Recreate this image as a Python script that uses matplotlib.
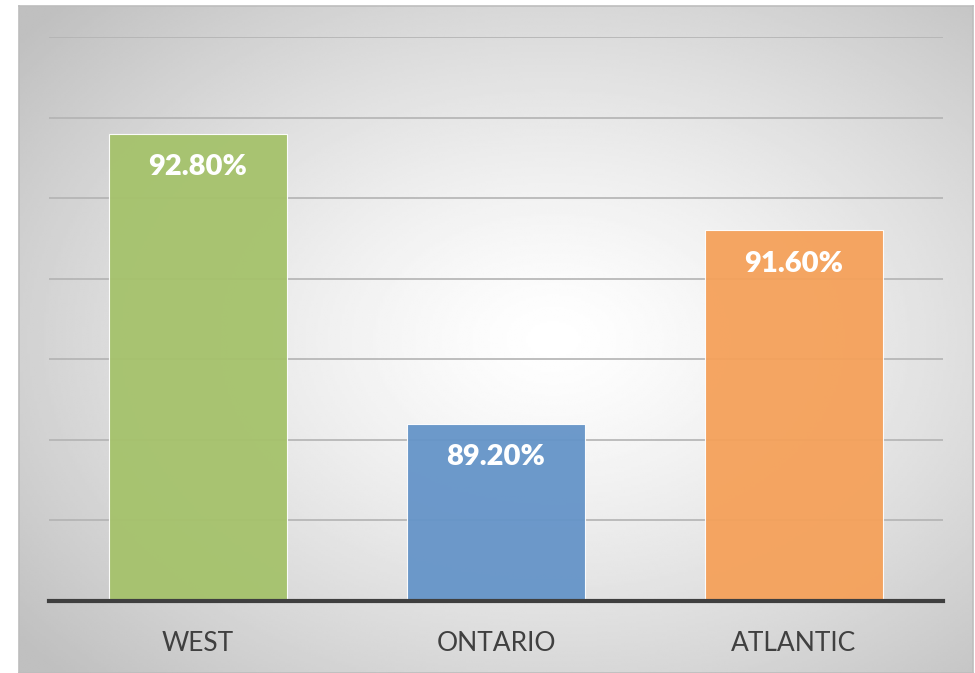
import numpy as np
import matplotlib.pyplot as plt

# ─── Datos ────────────────────────────────────────────────────────────────────
regions = ['WEST', 'ONTARIO', 'ATLANTIC']
values = [92.8, 89.2, 91.6]
colors = ['#A5C26B', '#6594C8', '#F5A15A']
ymin, ymax = 87, 94

W, H = 975, 673
fig = plt.figure(figsize=(W / 100, H / 100), dpi=100)

# ─── Fondo con degradado radial ──────────────────────────────────────────────
bg = fig.add_axes([19 / W, 0, (973 - 19) / W, (673 - 6) / H])
xx, yy = np.meshgrid(np.linspace(-1, 1, 400), np.linspace(-1, 1, 300))
cx, cy = 0.12, 0.0
r = np.sqrt((xx - cx) ** 2 + (yy - cy) ** 2)
r = np.clip(r / 1.45, 0, 1)
shade = 1.0 - 0.25 * r ** 1.3
bg.imshow(shade, cmap='gray', vmin=0, vmax=1, aspect='auto',
          extent=[0, 1, 0, 1], interpolation='bilinear')
bg.set_xticks([])
bg.set_yticks([])
for s in bg.spines.values():
    s.set_color('#BDBDBD')
    s.set_linewidth(1.2)

# ─── Gráfico de barras ───────────────────────────────────────────────────────
ax = fig.add_axes([49 / W, (673 - 601) / H, (943 - 49) / W, (601 - 37) / H])
ax.patch.set_alpha(0)
x = np.arange(len(regions))
bars = ax.bar(x, values, width=0.6, bottom=0, color=colors, alpha=0.95,
              edgecolor='white', linewidth=0.8, zorder=3)
ax.set_ylim(ymin, ymax)
ax.set_xlim(-0.5, len(regions) - 0.5)
ax.set_yticks(np.arange(ymin, ymax + 1, 1))
ax.yaxis.grid(True, color='#B3B3B3', lw=1.2, zorder=0)
ax.set_axisbelow(True)
ax.tick_params(left=False, labelleft=False, bottom=False)
for s in ['top', 'right', 'left']:
    ax.spines[s].set_visible(False)
ax.spines['bottom'].set_color('#3F3F3F')
ax.spines['bottom'].set_linewidth(3)
ax.spines['bottom'].set_zorder(5)
ax.set_xticks(x)
ax.set_xticklabels(regions, fontsize=19, color='#404040', family='Lato')
ax.tick_params(axis='x', pad=18)

for b, v in zip(bars, values):
    ax.annotate(f'{v:.2f}%', xy=(b.get_x() + b.get_width() / 2, v),
                xytext=(0, -24), textcoords='offset points',
                ha='center', va='center', fontsize=21, fontweight='heavy',
                color='white', family='Lato', zorder=6)

fig.savefig('out.png', dpi=100)
